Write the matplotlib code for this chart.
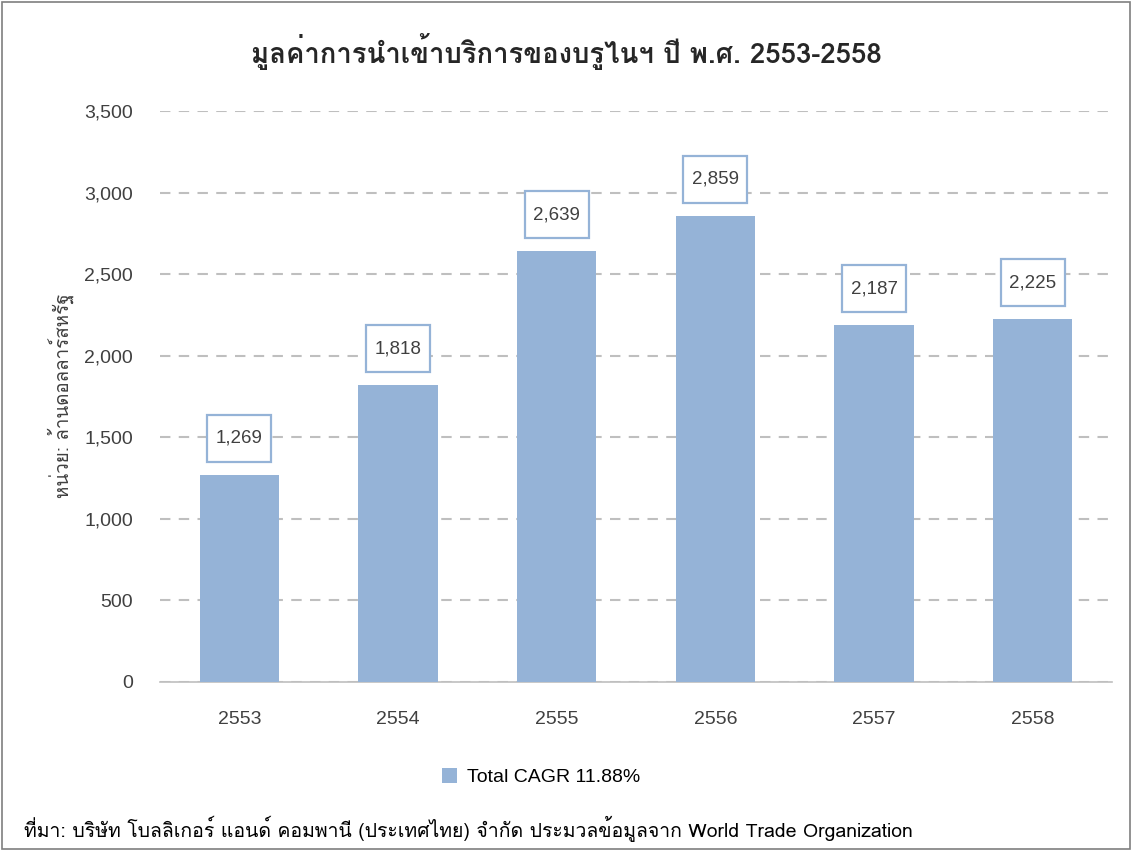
import matplotlib
matplotlib.use("Agg")
import matplotlib.pyplot as plt
from matplotlib import font_manager
from matplotlib.ft2font import FT2Font
from matplotlib.patches import Rectangle
from matplotlib.transforms import ScaledTranslation

years = ["2553", "2554", "2555", "2556", "2557", "2558"]
values = [1269, 1818, 2639, 2859, 2187, 2225]
yticks = [0, 500, 1000, 1500, 2000, 2500, 3000, 3500]
title = "มูลค่าการนำเข้าบริการของบรูไนฯ ปี พ.ศ. 2553-2558"
ylabel = "หน่วย: ล้านดอลลาร์สหรัฐ"
legend_label = "Total CAGR 11.88%"
source = "ที่มา: บริษัท โบลลิเกอร์ แอนด์ คอมพานี (ประเทศไทย) จำกัด ประมวลข้อมูลจาก World Trade Organization"

# find a font with Thai glyphs
thai_fonts = []
for f in font_manager.fontManager.ttflist:
    try:
        ft = FT2Font(f.fname)
        cm = ft.get_charmap()
        if 0x0E01 in cm and 0x0E33 in cm:
            if f.name not in thai_fonts:
                thai_fonts.append(f.name)
    except Exception:
        pass
families = thai_fonts + ["Liberation Sans", "DejaVu Sans"]
plt.rcParams['font.family'] = families
latin = ["Liberation Sans", "DejaVu Sans"]

fig = plt.figure(figsize=(11.32, 8.51), dpi=100)
ax = fig.add_axes([160/1132, 1-682/851, (1112-160)/1132, (682-111)/851])

color = "#95B3D7"
x = list(range(len(years)))
ax.bar(x, values, width=0.5, color=color, zorder=3)
ax.set_xlim(-0.5, 5.5)
ax.set_ylim(0, 3500)
ax.set_yticks(yticks)
ax.set_yticklabels([f"{v:,}" for v in yticks], fontsize=14, color="#404040", family=latin)
ax.set_xticks(x)
ax.set_xticklabels(years, fontsize=14, color="#404040", family=latin)
ax.tick_params(axis='y', length=0, pad=19.5)
ax.tick_params(axis='x', length=0, pad=21)
for s in ["top", "right", "left"]:
    ax.spines[s].set_visible(False)
ax.spines["bottom"].set_color("#BFBFBF")
ax.spines["bottom"].set_linewidth(1.2)
ax.yaxis.grid(True, linestyle=(0, (5, 4)), color="#BFBFBF", linewidth=1.5, zorder=0)
ax.set_axisbelow(True)

box_w, box_h, box_off = 0.64, 0.47, 0.365
for xi, v in zip(x, values):
    tr = fig.dpi_scale_trans + ScaledTranslation(xi, v, ax.transData)
    ax.add_patch(Rectangle((-box_w/2, box_off - box_h/2), box_w, box_h, transform=tr,
                           fc="white", ec=color, lw=1.6, zorder=5, clip_on=False))
    ax.text(0, box_off, f"{v:,}", transform=tr, ha="center", va="center",
            fontsize=13.5, color="#404040", family=latin, zorder=6, clip_on=False)

fig.text(0.5, 1-52/851, title, ha="center", va="center", fontsize=19.8, fontweight="bold", color="#262626")
fig.text(61/1132, 1-396/851, ylabel, rotation=90, ha="center", va="center", fontsize=13.5, color="#404040")

leg_handle = Rectangle((0, 0), 1, 1, fc=color)
fig.legend([leg_handle], [legend_label], loc="center", bbox_to_anchor=(541/1132, 1-777/851),
           frameon=False, handlelength=0.8, handleheight=0.8, handletextpad=0.5,
           prop={'family': latin, 'size': 14})
fig.text(24/1132, 1-829/851, source, ha="left", va="center", fontsize=14, color="#000000")

border = Rectangle((0.002, 0.002), 0.996, 0.996, transform=fig.transFigure, fill=False,
                   ec="#7F7F7F", lw=1.2)
fig.patches.append(border)

fig.savefig("out.png", dpi=100)
